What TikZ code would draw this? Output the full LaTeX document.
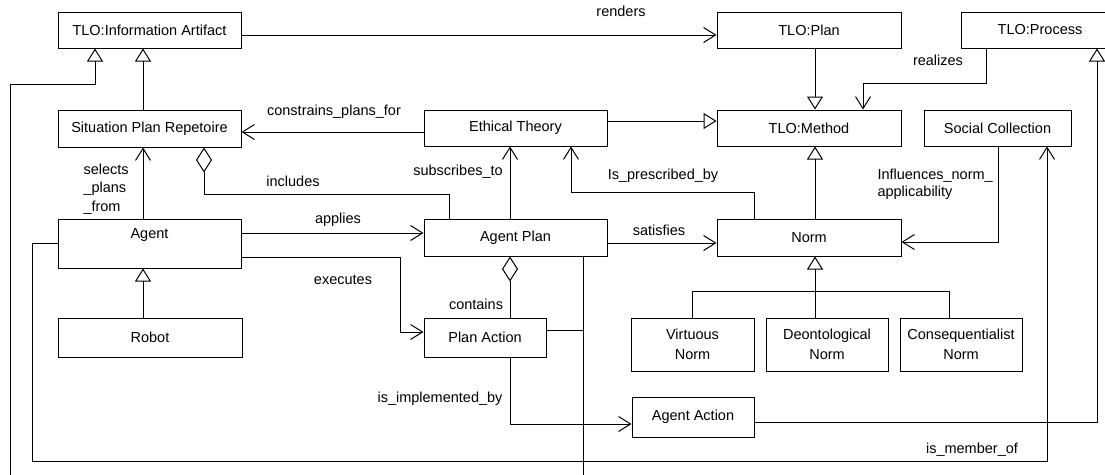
\documentclass[tikz,border=0pt]{standalone}
\usepackage{fontspec}
\setmainfont{Liberation Sans}
\usetikzlibrary{arrows.meta,calc}
\begin{document}
\begin{tikzpicture}[x=1pt,y=-1pt, line width=1pt,
 box/.style={draw, rectangle, inner sep=0pt, font=\fontsize{14.5}{19.5}\selectfont, align=center},
 lbl/.style={font=\fontsize{14.5}{17}\selectfont, inner sep=0pt, text height=10.5pt, text depth=3pt},
 assoc/.style={-{Straight Barb[length=12pt,width=15pt]}},
 gen/.style={-{Triangle[open,length=13pt,width=16pt]}},
 aggr/.style={{Diamond[open,length=25pt,width=16pt]}-},
]
\useasboundingbox (0,0) rectangle (1105,474);
\fill[white] (0,0) rectangle (1105,474);
\clip (0,0) rectangle (1105,474);

% boxes
\node[box, minimum width=183pt, minimum height=36pt] (ia) at (149.5,30) {TLO:Information Artifact};
\node[box, minimum width=184pt, minimum height=36pt] (plan) at (809,30) {TLO:Plan};
\node[box, minimum width=158pt, minimum height=36pt] (proc) at (1040,30) {TLO:Process};
\node[box, minimum width=183pt, minimum height=37pt] (spr) at (149.5,128.5) {Situation Plan Repetoire};
\node[box, minimum width=183pt, minimum height=36pt] (et) at (515.5,128) {Ethical Theory};
\node[box, minimum width=184pt, minimum height=36pt] (meth) at (809,128) {TLO:Method};
\node[box, minimum width=147pt, minimum height=36pt] (soc) at (997.5,128) {Social Collection};
\node[box, minimum width=183pt, minimum height=49pt] (agent) at (149.5,243.5) {};
\node[lbl] (agentT) at (149.5,235) {Agent};
\node[box, minimum width=183pt, minimum height=37pt] (ap) at (515.5,237.5) {Agent Plan};
\node[box, minimum width=184pt, minimum height=37pt] (norm) at (809,237.5) {Norm};
\node[box, minimum width=184pt, minimum height=39pt] (robot) at (150,337.5) {Robot};
\node[box, minimum width=122pt, minimum height=39pt] (pa) at (485,337.5) {Plan Action};
\node[box, minimum width=123pt, minimum height=53pt] (virt) at (692.5,344.5) {Virtuous\\Norm};
\node[box, minimum width=122pt, minimum height=53pt] (deon) at (827,344.5) {Deontological\\Norm};
\node[box, minimum width=122pt, minimum height=53pt] (cons) at (961,344.5) {Consequentialist\\Norm};
\node[box, minimum width=122pt, minimum height=40pt] (aa) at (693,417) {Agent Action};

% connectors
\draw[assoc] ([yshift=-5pt]ia.east) coordinate (c1) -- (c1 -| plan.west);
\draw[gen] ([xshift=6pt]plan.south) -- ([xshift=6pt]meth.north);
\draw[assoc] ([xshift=-54pt]proc.south) -- ++(0,35) -| ([xshift=54pt]meth.north);
\draw[gen] ([yshift=7pt]et.east) coordinate (c2) -- (c2 -| meth.west);
\draw[assoc] ([yshift=-4pt]et.west) coordinate (c3) -- (c3 -| spr.east);
\draw[gen] ([xshift=-6.5pt]spr.north) coordinate (c4) -- (c4 |- ia.south);
\draw[assoc] ([xshift=-6.5pt]agent.north) coordinate (c5) -- (c5 |- spr.south);
\draw[aggr] ([xshift=54.5pt]spr.south) -- ++(0,47) -| ([xshift=-66.5pt]ap.north);
\draw[assoc] ([xshift=-5.5pt]ap.north) coordinate (c6) -- (c6 |- et.south);
\draw[assoc] ([xshift=-55pt]norm.north) -- ++(0,-26) -| ([xshift=55.5pt]et.south);
\draw[gen] ([xshift=6pt]norm.north) -- ([xshift=6pt]meth.south);
\draw[assoc] ([xshift=0.5pt]soc.south) |- ([yshift=-4.5pt]norm.east);
\draw[assoc] ([yshift=10.5pt]agent.east) coordinate (c7) -- (c7 -| ap.west);
\draw[assoc] ([yshift=-13.5pt]agent.east) -- ++(159,0) |- ([yshift=5.5pt]pa.west);
\draw[aggr] ([xshift=-5.5pt]ap.south) coordinate (c8) -- (c8 |- pa.north);
\draw[assoc] ([yshift=-5.5pt]ap.east) coordinate (c9) -- (c9 -| norm.west);
\draw[gen] ([xshift=-12pt]deon.north) -- ([xshift=6pt]norm.south);
\draw (virt.north) -- ++(0,-26) -| ([xshift=-12pt]cons.north);
\draw[assoc] ([xshift=25pt]pa.south) |- ([yshift=-7pt]aa.west);
\draw[gen] ([yshift=-5pt]aa.east) -| ([xshift=57pt]proc.south);
\draw[assoc] ([yshift=0.5pt]agent.west) -- ++(-25,0) -- ++(0,218) -| ([xshift=49.5pt]soc.south);
\draw[gen] ([xshift=-7pt]robot.north) coordinate (c10) -- (c10 |- agent.south);
\draw ([yshift=7.5pt]pa.east) -- ++(37,0);
\coordinate (lowR) at (583,496);
\coordinate (lowL) at (10,496);
\coordinate (upL) at (10,84);
\draw[gen] ([xshift=67.5pt]ap.south) -- (lowR) -- (lowL) -- (upL) -| ([xshift=-54.5pt]ia.south);

% labels
\node[lbl] (l1) at (621,13) {renders};
\node[lbl] (l2) at (938,62) {realizes};
\node[lbl] (l3) at (334,112) {constrains\_plans\_for};
\node[lbl, anchor=north west, align=left, text height=, text depth=, font=\fontsize{14.5}{18.5}\selectfont] (l4) at (83,163) {selects\\\_plans\\\_from};
\node[lbl] (l5) at (293,183) {includes};
\node[lbl] (l6) at (458,172) {subscribes\_to};
\node[lbl] (l7) at (663,176) {Is\_prescribed\_by};
\node[lbl, anchor=north west, align=left, text height=, text depth=, font=\fontsize{14.5}{17}\selectfont] (l8) at (877,168) {Influences\_norm\_\\applicability};
\node[lbl] (l9) at (338,220) {applies};
\node[lbl] (l10) at (343,281) {executes};
\node[lbl] (l11) at (476,306) {contains};
\node[lbl] (l12) at (659,232) {satisfies};
\node[lbl] (l13) at (440,399) {is\_implemented\_by};
\node[lbl] (l14) at (972,450) {is\_member\_of};
\end{tikzpicture}
\end{document}
